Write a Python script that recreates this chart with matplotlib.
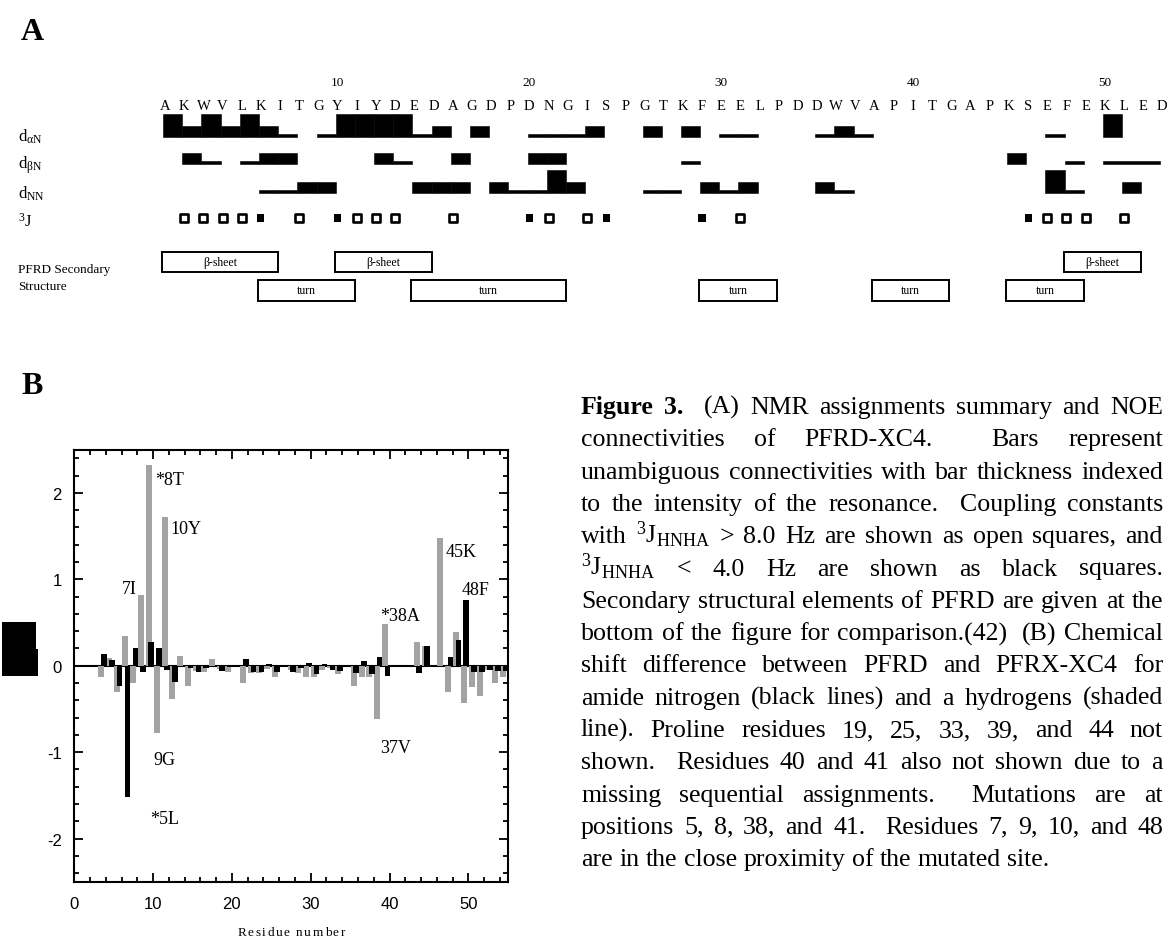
import matplotlib
matplotlib.use("Agg")
import matplotlib.pyplot as plt
import numpy as np
from matplotlib.patches import Rectangle

plt.rcParams['mathtext.fontset'] = 'custom'
plt.rcParams['mathtext.rm'] = 'Liberation Serif'
plt.rcParams['mathtext.it'] = 'Liberation Serif:italic'
plt.rcParams['mathtext.bf'] = 'Liberation Serif:bold'
plt.rcParams['axes.unicode_minus'] = False

SERIF = 'Liberation Serif'
SANS = 'Liberation Sans'

# ---------------- data: panel A ----------------
sequence = "AKWVLKITGYIYDEDAGDPDNGISPGTKFEELPDDWVAPITGAPKSEFEKLED"
number_marks = [10, 20, 30, 40, 50]

# sequential NOEs: (residue i of the i/i+1 pair, intensity 1=weak 2=medium 3=strong)
d_alphaN = [(1, 3), (2, 2), (3, 3), (4, 2), (5, 3), (6, 2), (7, 1), (9, 1),
            (10, 3), (11, 3), (12, 3), (13, 3), (14, 1), (15, 2), (17, 2),
            (20, 1), (21, 1), (22, 1), (23, 2), (26, 2), (28, 2), (30, 1),
            (31, 1), (35, 1), (36, 2), (37, 1), (47, 1), (50, 3)]
d_betaN = [(2, 2), (3, 1), (5, 1), (6, 2), (7, 2), (12, 2), (13, 1), (16, 2),
           (20, 2), (21, 2), (28, 1), (45, 2), (48, 1), (50, 1), (51, 1), (52, 1)]
d_NN = [(6, 1), (7, 1), (8, 2), (9, 2), (14, 2), (15, 2), (16, 2), (18, 2),
        (19, 1), (20, 1), (21, 3), (22, 2), (26, 1), (27, 1), (29, 2), (30, 1),
        (31, 2), (35, 2), (36, 1), (47, 3), (48, 1), (51, 2)]

# 3J(HNHA) > 8 Hz (open) and < 4 Hz (filled)
j_open = [2, 3, 4, 5, 8, 11, 12, 13, 16, 21, 23, 31, 47, 48, 49, 51]
j_filled = [6, 10, 20, 24, 29, 46]

# PFRD secondary structure (first, last residue)
beta_sheets = [(1, 6), (10, 14), (48, 51)]
turns = [(6, 10), (14, 21), (29, 32), (38, 41), (45, 48)]

# ---------------- data: panel B ----------------
residues_b = [2, 3, 4, 5, 6, 7, 8, 9, 10, 11, 12, 13, 14, 15, 16, 17, 18,
              20, 21, 22, 23, 24, 26, 27, 28, 29, 30, 31, 32,
              34, 35, 36, 37, 38, 42, 43, 45, 46, 47, 48, 49, 50, 51, 52, 53]
delta_h = [-0.13, 0.09, -0.30, 0.34, -0.20, 0.82, 2.32, -0.78, 1.72, -0.39,
           0.11, -0.23, -0.06, -0.07, 0.08, -0.04, -0.07,
           -0.20, -0.08, -0.08, -0.04, -0.13, -0.05, -0.08, -0.13, -0.13,
           -0.05, -0.03, -0.10, -0.23, -0.13, -0.13, -0.62, 0.48, 0.28, 0.23,
           1.48, -0.30, 0.39, -0.43, -0.25, -0.35, -0.05, -0.20, -0.13]
delta_n = [0.13, 0.07, -0.24, -1.52, 0.20, -0.07, 0.27, 0.20, -0.05, -0.19,
           -0.02, -0.03, -0.07, -0.03, -0.02, -0.06, -0.02,
           0.08, -0.07, -0.07, 0.02, -0.07, -0.07, -0.03, 0.03, -0.10,
           0.02, -0.05, -0.06, -0.08, 0.05, -0.10, 0.10, -0.12, -0.08, 0.23,
           0.0, 0.10, 0.30, 0.76, -0.07, -0.07, -0.05, -0.06, -0.06]

# labelled residues: (text, x, y) in data units of panel B
b_labels = [("*8T", 10.2, 2.15), ("10Y", 12.2, 1.59), ("7I", 6.0, 0.89),
            ("9G", 10.0, -1.08), ("*5L", 9.6, -1.77), ("*38A", 38.8, 0.58),
            ("37V", 38.8, -0.95), ("45K", 47.1, 1.32), ("48F", 49.2, 0.88)]

caption_lines = [
    [("Figure", 'bold', 1), ("3.", 'bold', 2), ("(A)", 'normal', 1), ("NMR", 'normal', 1),
     ("assignments", 'normal', 1), ("summary", 'normal', 1), ("and", 'normal', 1), ("NOE", 'normal', 0)],
    "connectivities of PFRD-XC4.| Bars represent",
    "unambiguous connectivities with bar thickness indexed",
    "to the intensity of the resonance.| Coupling constants",
    r"with $^{3}\mathrm{J}_{\mathrm{HNHA}}$ > 8.0 Hz are shown as open squares, and",
    r"$^{3}\mathrm{J}_{\mathrm{HNHA}}$ < 4.0 Hz are shown as black squares.",
    "Secondary structural elements of PFRD are given at the",
    "bottom of the figure for comparison.(42)| (B) Chemical",
    "shift difference between PFRD and PFRX-XC4 for",
    "amide nitrogen (black lines) and a hydrogens (shaded",
    "line). Proline residues 19, 25, 33, 39, and 44 not",
    "shown.| Residues 40 and 41 also not shown due to a",
    "missing sequential assignments.| Mutations are at",
    "positions 5, 8, 38, and 41.| Residues 7, 9, 10, and 48",
    "are in the close proximity of the mutated site.",
]

# ---------------- figure ----------------
W, H = 1171, 945
fig = plt.figure(figsize=(W / 100, H / 100), dpi=100)
renderer = fig.canvas.get_renderer()

axT = fig.add_axes([0, 0, 1, 1])
axT.set_xlim(0, W)
axT.set_ylim(H, 0)
axT.axis('off')


def tracked_text(ax, xc, y, s, track, **kw):
    """Draw a string centred on xc with extra spacing between letters."""
    pieces = [ax.text(0, y, ch, ha='left', va='center', **kw) for ch in s]
    space_w = kw.get('fontsize', 10) * 100 / 72 * 0.25
    widths = [p.get_window_extent(renderer).width if ch != ' ' else space_w
              for p, ch in zip(pieces, s)]
    total = sum(widths) + track * (len(s) - 1)
    x = xc - total / 2
    for p, w in zip(pieces, widths):
        p.set_x(x)
        x += w + track


# ----- panel A -----
A_BOT = 320
X_RES1, STEP = 165.0, 19.18
axA = fig.add_axes([0, 1 - A_BOT / H, 1, A_BOT / H])
axA.set_xlim(1 - X_RES1 / STEP, 1 + (W - X_RES1) / STEP)
axA.set_ylim(A_BOT, 0)
axA.axis('off')

axT.text(32, 32, "A", family=SERIF, weight='bold', fontsize=23, ha='center', va='center')

for i, aa in enumerate(sequence, start=1):
    axA.text(i, 106, aa, family=SERIF, fontsize=10.5, ha='center', va='center')
for n in number_marks:
    axA.text(n, 83, str(n), family=SERIF, fontsize=9.5, ha='center', va='center')

LEVEL_H = {1: 2.6, 2: 11.5, 3: 23.0}
for data, base in [(d_alphaN, 138), (d_betaN, 165), (d_NN, 194)]:
    starts = np.array([s for s, _ in data], dtype=float) - 0.1
    heights = np.array([LEVEL_H[l] for _, l in data])
    axA.bar(starts, -heights, width=1.0, bottom=base, align='edge',
            color='black', edgecolor='black', linewidth=0.4)

J_Y = 219
axA.scatter(j_open, [J_Y] * len(j_open), marker='s', s=28, facecolors='white',
            edgecolors='black', linewidths=1.9, zorder=3)
axA.scatter(j_filled, [J_Y] * len(j_filled), marker='s', s=26, facecolors='black',
            edgecolors='none', zorder=3)

row_labels = [(r"d$_{\mathrm{αN}}$", 137), (r"d$_{\mathrm{βN}}$", 165),
              (r"d$_{\mathrm{NN}}$", 194), (r"$^{3}$J", 222)]
for txt, y in row_labels:
    axT.text(18, y, txt, family=SERIF, fontsize=12, ha='left', va='center')
axT.text(18, 270, "PFRD Secondary", family=SERIF, fontsize=9.5, ha='left', va='center')
axT.text(18, 287, "Structure", family=SERIF, fontsize=9.5, ha='left', va='center')

for elems, label, (y0, y1) in [(beta_sheets, "β-sheet", (252.5, 273)),
                               (turns, "turn", (281, 302))]:
    for a, b in elems:
        x0 = a - 0.15
        w = (b + 0.9) - x0
        axA.add_patch(Rectangle((x0, y0), w, y1 - y0, facecolor='white',
                                edgecolor='black', linewidth=1.4))
        axA.text(x0 + w / 2, (y0 + y1) / 2, label, family=SERIF, fontsize=8.5,
                 ha='center', va='center')

# ----- panel B -----
axT.text(32, 386, "B", family=SERIF, weight='bold', fontsize=23, ha='center', va='center')

L, R, T, B = 74.3, 507.7, 450.7, 882.7
axB = fig.add_axes([L / W, 1 - B / H, (R - L) / W, (B - T) / H])
res = np.array(residues_b, dtype=float)
axB.axhline(0, color='black', linewidth=1.5, zorder=1)
axB.bar(res + 1.45, delta_h, width=0.76, color='#a3a3a3', linewidth=0, zorder=2)
axB.bar(res + 1.75, delta_n, width=0.72, color='black', linewidth=0, zorder=3)

axB.set_xlim(0, 55)
axB.set_ylim(-2.5, 2.5)
axB.set_xticks([0, 10, 20, 30, 40, 50])
axB.set_xticks(np.arange(0, 56, 2), minor=True)
axB.set_yticks([-2, -1, 0, 1, 2])
axB.set_yticks(np.arange(-2.4, 2.41, 0.2), minor=True)
axB.tick_params(which='both', direction='in', top=True, right=True, width=1.3)
axB.tick_params(which='major', length=6.5)
axB.tick_params(which='minor', length=3.8)
axB.tick_params(axis='y', which='major', pad=9, labelsize=12)
axB.tick_params(axis='x', which='major', pad=10, labelsize=12)
for lab in axB.get_xticklabels() + axB.get_yticklabels():
    lab.set_family(SANS)
for sp in axB.spines.values():
    sp.set_linewidth(1.5)

for txt, x, y in b_labels:
    axB.text(x, y, txt, family=SERIF, fontsize=13, ha='left', va='center', zorder=4)

tracked_text(axT, (L + R) / 2, 933, "Residue number", 1.6, family=SERIF, fontsize=9.5)

# filled block at the left edge of panel B
axT.add_patch(Rectangle((1.7, 622.7), 34.0, 54.0, facecolor='black', edgecolor='none'))
axT.add_patch(Rectangle((35.0, 650.0), 2.7, 26.7, facecolor='black', edgecolor='none'))

# ----- caption (justified) -----
CAP_X0, CAP_X1 = 581.0, 1163.0
CAP_Y0, CAP_DY = 414.0, 32.3
CAP_PT = 18.6


def parse(line):
    if isinstance(line, list):
        return line
    words = []
    for chunk in line.split('|'):
        for p in chunk.split():
            words.append([p, 'normal', 1])
        words[-1][2] = 2
    words[-1][2] = 0
    return [tuple(w) for w in words]


n_lines = len(caption_lines)
for li, line in enumerate(caption_lines):
    words = parse(line)
    y = CAP_Y0 + li * CAP_DY
    texts = [axT.text(CAP_X0, y, w, family=SERIF, weight=wt, fontsize=CAP_PT,
                      ha='left', va='baseline') for w, wt, _ in words]
    widths = [t.get_window_extent(renderer).width for t in texts]
    weights = [g for _, _, g in words[:-1]]
    if li < n_lines - 1:
        gap = (CAP_X1 - CAP_X0 - sum(widths)) / sum(weights)
    else:
        gap = CAP_PT * 100 / 72 * 0.25
    x = CAP_X0
    for t, wdt, (_, _, g) in zip(texts, widths, words):
        t.set_x(x)
        x += wdt + g * gap

fig.savefig("out.png", dpi=100)
